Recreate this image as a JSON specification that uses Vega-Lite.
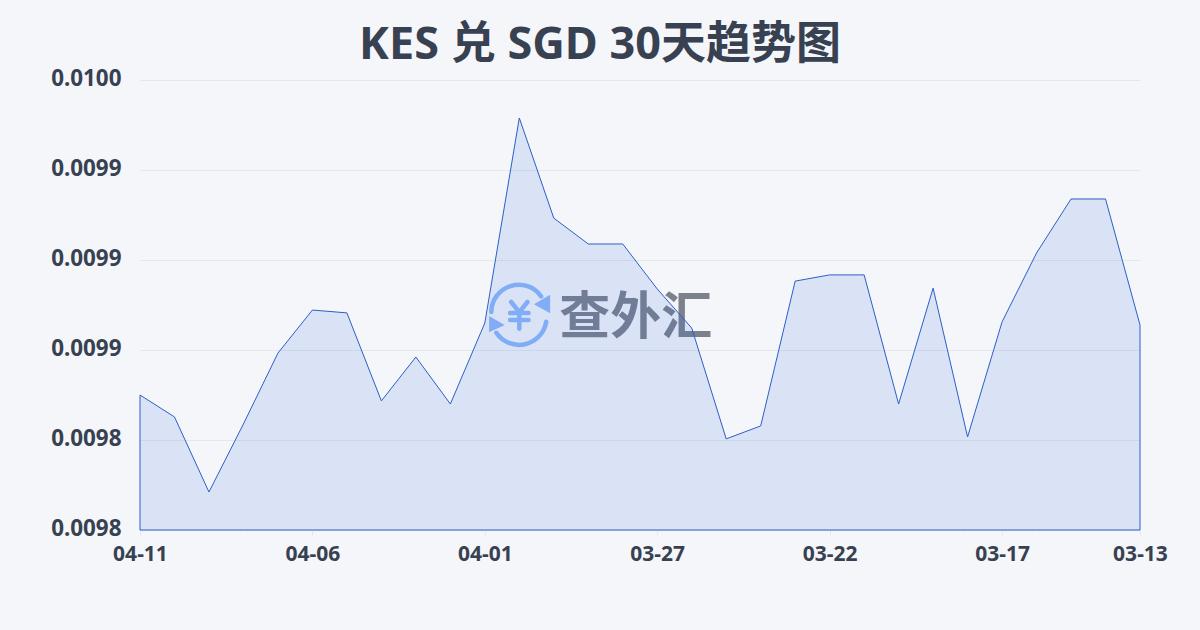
{
"$schema":"https://vega.github.io/schema/vega-lite/v6.json",
"width":1000,"height":450,
"autosize":"none",
"padding":{"left":140,"top":80,"right":60,"bottom":100},
"background":"#f5f6f9",
"title":{"text":"KES 兑 SGD 30天趋势图","font":"Noto Sans, Noto Sans CJK SC","fontSize":45,"fontWeight":"bold","color":"#374151","anchor":"middle","dx":-40,"offset":0},
"config":{"view":{"stroke":null}},
"encoding":{
"x":{"field":"date","type":"temporal","scale":{"type":"utc","domain":["2025-03-13","2025-04-11"],"reverse":true},
"axis":{"title":null,"values":["2025-04-11","2025-04-06","2025-04-01","2025-03-27","2025-03-22","2025-03-17","2025-03-13"],"format":"%m-%d","labelAngle":0,"labelOverlap":false,"labelFlush":false,"labelFont":"Noto Sans","labelFontSize":21,"labelFontWeight":"bold","labelColor":"#374151","domain":false,"ticks":true,"tickColor":"#e5e7eb","tickSize":5,"labelPadding":8,"grid":false}},
"y":{"field":"rate","type":"quantitative","scale":{"domain":[0.0098,0.00996],"zero":false,"nice":false},
"axis":{"title":null,"values":[0.0098,0.009832,0.009864,0.009896,0.009928,0.00996],"format":".4f","labelOverlap":false,"labelFlush":false,"labelOffset":-1.5,"labelFont":"Noto Sans","labelFontSize":22.4,"labelFontWeight":"bold","labelColor":"#374151","domain":false,"ticks":false,"grid":true,"gridColor":"#e5e7eb","gridWidth":1,"labelPadding":19}}
},
"layer":[
{"data":{"values":[{"date":"2025-03-31","rate":0.0098765}]},
"mark":{"type":"point","filled":false,"strokeWidth":4.5,"stroke":"#8fb8f8","opacity":1,"strokeCap":"round","size":3136,"shape":"M -1 -0.1 A 0.98 0.98 0 0 1 0.78 -0.66 M 0.96 0.25 A 0.98 0.98 0 0 1 -0.82 0.64 M -0.29 -0.46 L 0 -0.1 L 0.29 -0.46 M 0 -0.1 L 0 0.5 M -0.33 -0.07 L 0.33 -0.07 M -0.33 0.18 L 0.33 0.18"}},
{"data":{"values":[{"date":"2025-03-31","rate":0.0098765}]},
"mark":{"type":"point","filled":true,"fill":"#8fb8f8","opacity":1,"size":3136,"shape":"M 1.1 -0.72 L 1.1 -0.06 L 0.52 -0.38 Z M -1.08 0.04 L -1.08 0.62 L -0.52 0.36 Z"}},
{"data":{"values":[{"date":"2025-03-27T15:00:00Z","rate":0.0098750,"label":"查外汇"}]},
"mark":{"type":"text","font":"Noto Sans CJK SC","fontSize":51,"fontWeight":"bold","color":"#4f5562","opacity":0.72},
"encoding":{"text":{"field":"label"}}},
{"data":{"values":[
{"date":"2025-04-11","rate":0.0098480},{"date":"2025-04-10","rate":0.0098402},{"date":"2025-04-09","rate":0.0098135},{"date":"2025-04-08","rate":0.0098377},{"date":"2025-04-07","rate":0.0098629},{"date":"2025-04-06","rate":0.0098782},{"date":"2025-04-05","rate":0.0098772},{"date":"2025-04-04","rate":0.0098459},{"date":"2025-04-03","rate":0.0098615},{"date":"2025-04-02","rate":0.0098448},{"date":"2025-04-01","rate":0.0098736},{"date":"2025-03-31","rate":0.0099465},{"date":"2025-03-30","rate":0.0099109},{"date":"2025-03-29","rate":0.0099017},{"date":"2025-03-28","rate":0.0099017},{"date":"2025-03-27","rate":0.0098857},{"date":"2025-03-26","rate":0.0098718},{"date":"2025-03-25","rate":0.0098324},{"date":"2025-03-24","rate":0.0098370},{"date":"2025-03-23","rate":0.0098885},{"date":"2025-03-22","rate":0.0098907},{"date":"2025-03-21","rate":0.0098907},{"date":"2025-03-20","rate":0.0098448},{"date":"2025-03-19","rate":0.0098860},{"date":"2025-03-18","rate":0.0098331},{"date":"2025-03-17","rate":0.0098740},{"date":"2025-03-16","rate":0.0098985},{"date":"2025-03-15","rate":0.0099177},{"date":"2025-03-14","rate":0.0099177},{"date":"2025-03-13","rate":0.0098729}
]},
"mark":{"type":"area","stroke":"#2b5fc7","strokeWidth":1,"fill":"#2563eb","fillOpacity":0.13,"interpolate":"linear"},
"encoding":{"y2":{"datum":0.0098}}}
]
}
